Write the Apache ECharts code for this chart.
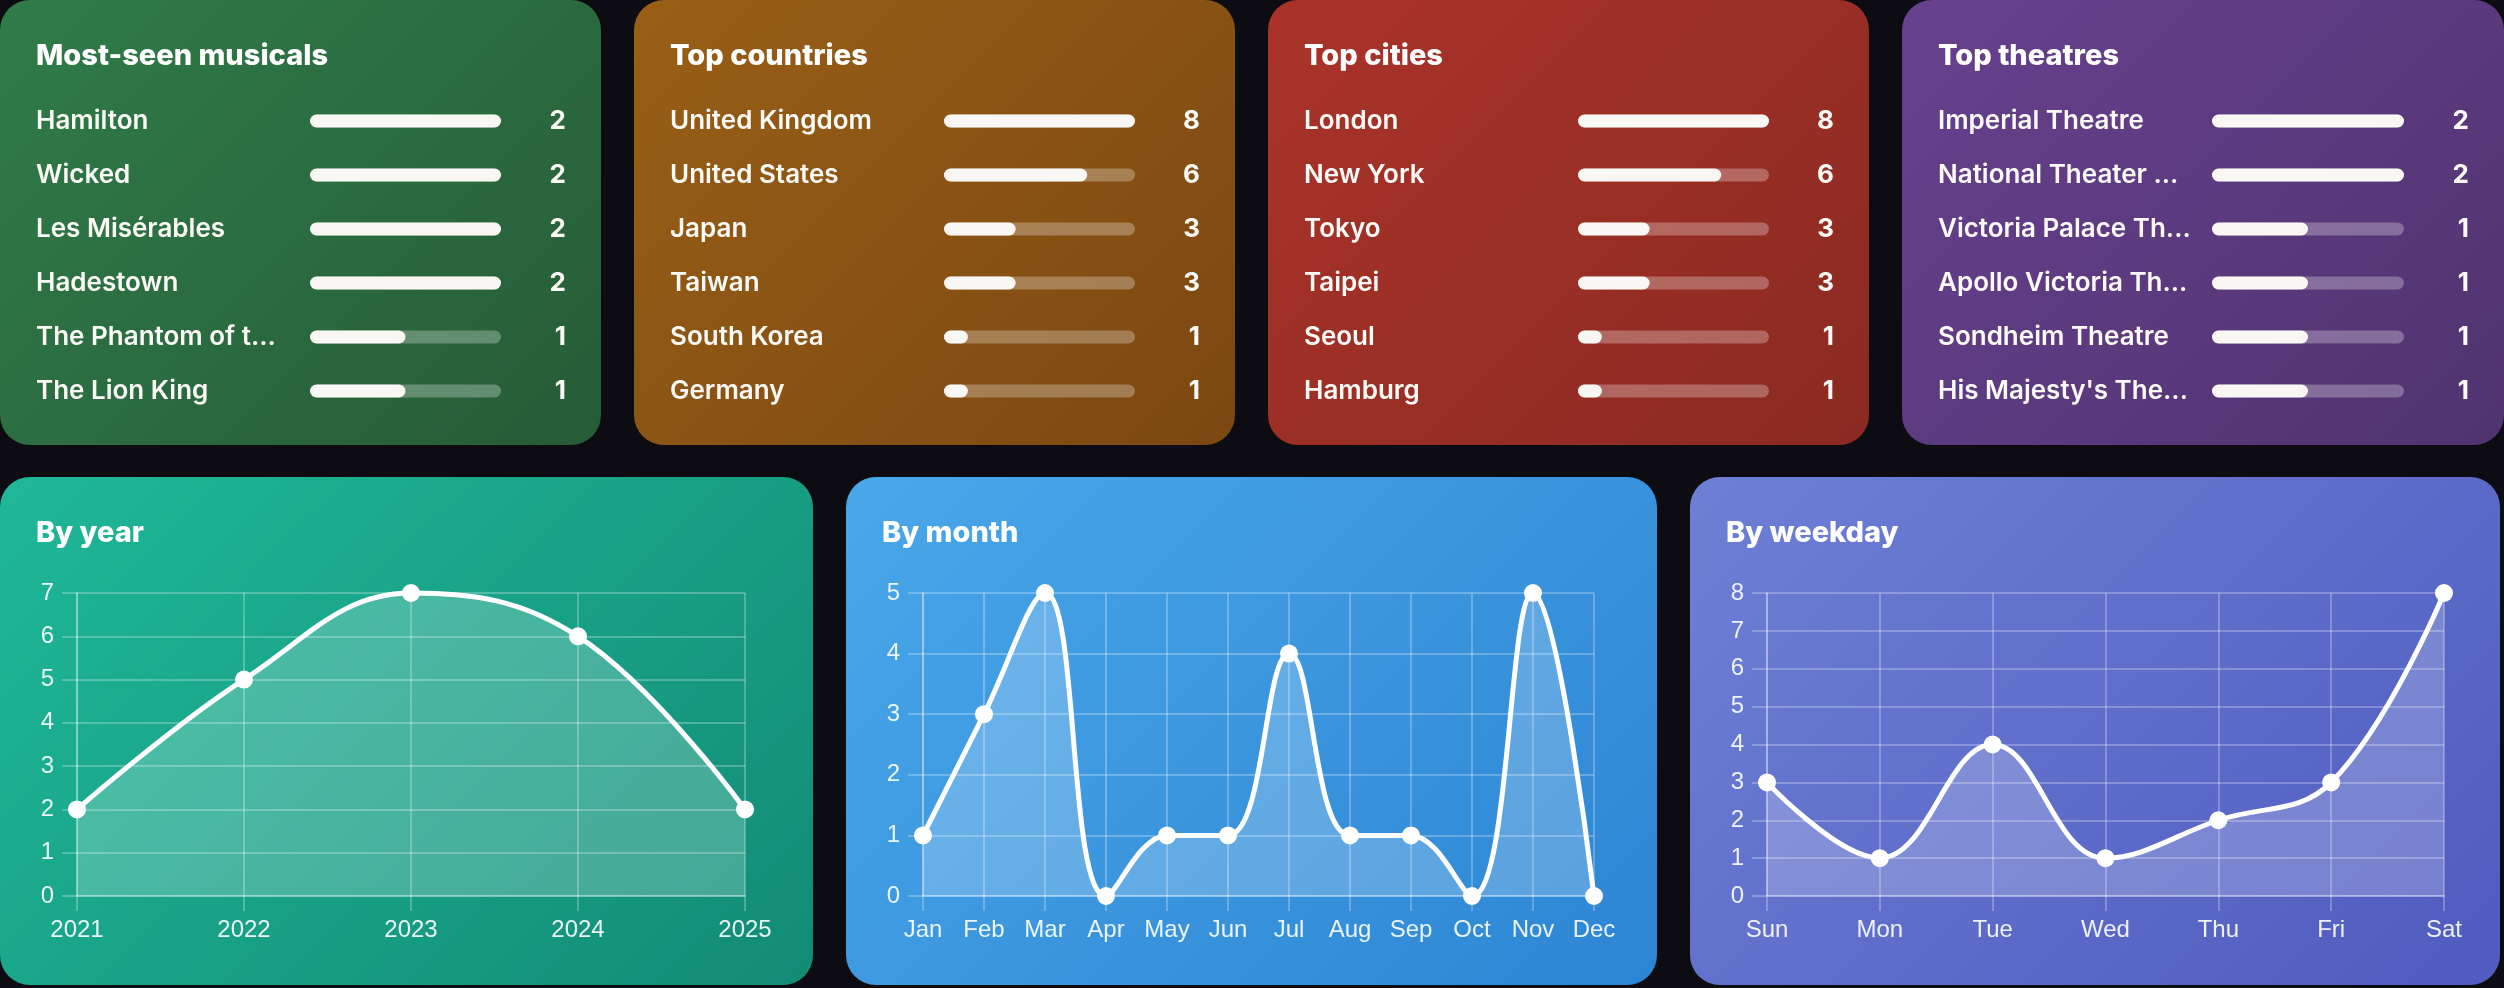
<!DOCTYPE html>
<html>
<head>
<meta charset="utf-8">
<script src="https://cdn.jsdelivr.net/npm/echarts@6/dist/echarts.min.js"></script>
<style>
  html, body { margin:0; padding:0; background:#0c0c12; }
  body { width:2504px; height:988px; position:relative; overflow:hidden; }
  .card { position:absolute; border-radius:30px; overflow:hidden; }
  .card > div { width:100%; height:100%; }
</style>
</head>
<body>
<div class="card" id="c1" style="left:0;top:0;width:601px;height:445px;background:linear-gradient(135deg,#307c49,#265b37);"><div id="ch1"></div></div>
<div class="card" id="c2" style="left:634px;top:0;width:601px;height:445px;background:linear-gradient(135deg,#995f16,#7b4712);"><div id="ch2"></div></div>
<div class="card" id="c3" style="left:1268px;top:0;width:601px;height:445px;background:linear-gradient(135deg,#aa3329,#8a2a22);"><div id="ch3"></div></div>
<div class="card" id="c4" style="left:1902px;top:0;width:602px;height:445px;background:linear-gradient(135deg,#68418e,#4f336f);"><div id="ch4"></div></div>
<div class="card" id="c5" style="left:0;top:477px;width:813px;height:508px;background:linear-gradient(135deg,#1fb898,#128b75);"><div id="ch5"></div></div>
<div class="card" id="c6" style="left:846px;top:477px;width:811px;height:508px;background:linear-gradient(135deg,#4aa7e9,#2c85d3);"><div id="ch6"></div></div>
<div class="card" id="c7" style="left:1690px;top:477px;width:810px;height:508px;background:linear-gradient(135deg,#6d80d5,#4f5bbf);"><div id="ch7"></div></div>
<script>
// ---- data ----
const musicals = ['Hamilton', 'Wicked', 'Les Misérables', 'Hadestown', 'The Phantom of t...', 'The Lion King'];
const musicalCounts = [2, 2, 2, 2, 1, 1];
const countries = ['United Kingdom', 'United States', 'Japan', 'Taiwan', 'South Korea', 'Germany'];
const countryCounts = [8, 6, 3, 3, 1, 1];
const cities = ['London', 'New York', 'Tokyo', 'Taipei', 'Seoul', 'Hamburg'];
const cityCounts = [8, 6, 3, 3, 1, 1];
const theatres = ['Imperial Theatre', 'National Theater ...', 'Victoria Palace Th...', 'Apollo Victoria Th...', 'Sondheim Theatre', "His Majesty's The..."];
const theatreCounts = [2, 2, 1, 1, 1, 1];
const years = ['2021', '2022', '2023', '2024', '2025'];
const yearCounts = [2, 5, 7, 6, 2];
const months = ['Jan', 'Feb', 'Mar', 'Apr', 'May', 'Jun', 'Jul', 'Aug', 'Sep', 'Oct', 'Nov', 'Dec'];
const monthCounts = [1, 3, 5, 0, 1, 1, 4, 1, 1, 0, 5, 0];
const weekdays = ['Sun', 'Mon', 'Tue', 'Wed', 'Thu', 'Fri', 'Sat'];
const weekdayCounts = [3, 1, 4, 1, 2, 3, 8];

const TITLE_FONT = 'Inter, "Noto Sans", sans-serif';
const AXIS_FONT = '"Liberation Sans", Arial, sans-serif';

function titleOpt(text) {
  return { text: text, left: 36, top: 42, padding: 0,
    textStyle: { color: '#ffffff', fontSize: 29, fontWeight: 800, fontFamily: TITLE_FONT } };
}

function listChart(id, title, names, counts) {
  const el = document.getElementById(id);
  const chart = echarts.init(el, null, { renderer: 'canvas' });
  const maxV = Math.max.apply(null, counts);
  chart.setOption({
    animation: false,
    title: titleOpt(title),
    grid: { left: 310, right: 100, top: 94, bottom: 27 },
    xAxis: { type: 'value', min: 0, max: maxV, show: false },
    yAxis: [
      { type: 'category', data: names, inverse: true,
        axisLine: { show: false }, axisTick: { show: false }, splitLine: { show: false },
        axisLabel: { interval: 0, margin: 274, align: 'left', color: '#fbfaf6', fontSize: 26, fontWeight: 600, fontFamily: TITLE_FONT } },
      { type: 'category', data: names, inverse: true, position: 'right',
        axisLine: { show: false }, axisTick: { show: false }, splitLine: { show: false },
        axisLabel: { interval: 0, margin: 65, align: 'right', color: '#fbfaf6', fontSize: 26, fontWeight: 700, fontFamily: TITLE_FONT,
          formatter: function (v, i) { return String(counts[i]); } } }
    ],
    series: [{
      type: 'bar', data: counts, yAxisIndex: 0, barWidth: 13, silent: true,
      showBackground: true,
      backgroundStyle: { color: 'rgba(255,255,255,0.28)', borderRadius: 7 },
      itemStyle: { color: '#f8f7f3', borderRadius: 7 }
    }]
  });
}

function lineChart(id, title, cats, vals, rightPad) {
  const el = document.getElementById(id);
  const chart = echarts.init(el, null, { renderer: 'canvas' });
  const gridColor = 'rgba(255,255,255,0.34)';
  const maxV = Math.max.apply(null, vals);
  chart.setOption({
    animation: false,
    title: titleOpt(title),
    grid: { left: 77, right: rightPad, top: 116, bottom: 89 },
    xAxis: {
      type: 'category', data: cats, boundaryGap: false,
      axisLine: { show: true, lineStyle: { color: gridColor, width: 1.5 } },
      axisTick: { show: true, length: 15, lineStyle: { color: gridColor, width: 1.5 } },
      splitLine: { show: true, lineStyle: { color: gridColor, width: 1.5 } },
      axisLabel: { interval: 0, margin: 22, color: 'rgba(255,255,255,0.9)', fontSize: 24, fontFamily: AXIS_FONT }
    },
    yAxis: {
      type: 'value', min: 0, max: maxV, interval: 1,
      axisLine: { show: true, lineStyle: { color: gridColor, width: 1.5 } },
      axisTick: { show: true, length: 15, lineStyle: { color: gridColor, width: 1.5 } },
      splitLine: { show: true, lineStyle: { color: gridColor, width: 1.5 } },
      axisLabel: { margin: 23, color: 'rgba(255,255,255,0.9)', fontSize: 24, fontFamily: AXIS_FONT }
    },
    series: [{
      type: 'line', data: vals, smooth: 0.4, clip: false, silent: true,
      symbol: 'circle', symbolSize: 18,
      itemStyle: { color: '#ffffff' },
      lineStyle: { color: '#ffffff', width: 5 },
      areaStyle: { color: 'rgba(255,255,255,0.3)' }
    }]
  });
}

listChart('ch1', 'Most-seen musicals', musicals, musicalCounts);
listChart('ch2', 'Top countries', countries, countryCounts);
listChart('ch3', 'Top cities', cities, cityCounts);
listChart('ch4', 'Top theatres', theatres, theatreCounts);
lineChart('ch5', 'By year', years, yearCounts, 68);
lineChart('ch6', 'By month', months, monthCounts, 63);
lineChart('ch7', 'By weekday', weekdays, weekdayCounts, 56);
</script>
</body>
</html>
